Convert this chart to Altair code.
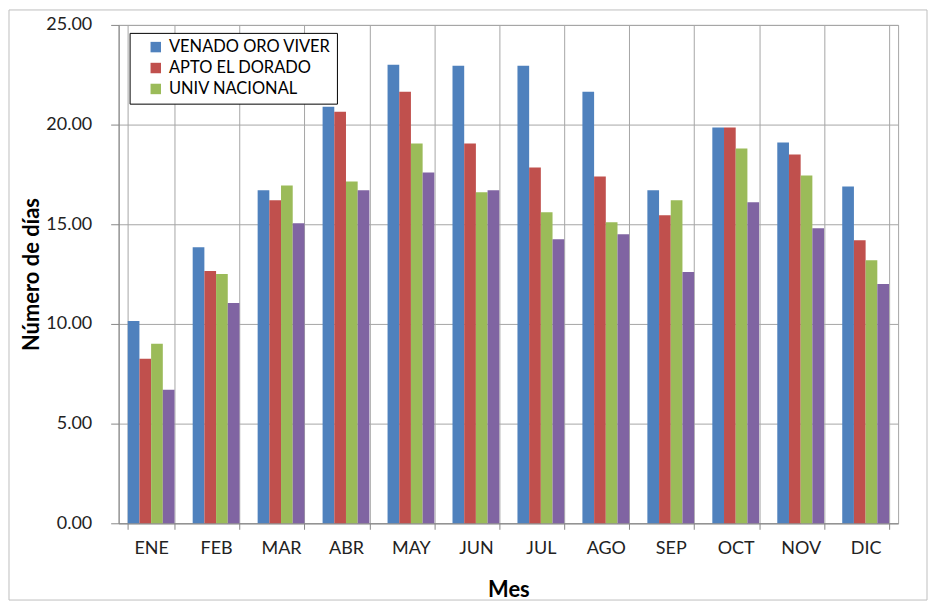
import altair as alt
import pandas as pd

months = ["ENE", "FEB", "MAR", "ABR", "MAY", "JUN", "JUL", "AGO", "SEP", "OCT", "NOV", "DIC"]
series = ["VENADO ORO VIVER", "APTO EL DORADO", "UNIV NACIONAL", "SERIE 4"]
venado = [10.15, 13.85, 16.7, 20.9, 23.0, 22.95, 22.95, 21.65, 16.7, 19.85, 19.1, 16.9]
apto = [8.25, 12.65, 16.2, 20.65, 21.65, 19.05, 17.85, 17.4, 15.45, 19.85, 18.5, 14.2]
univ = [9.0, 12.5, 16.95, 17.15, 19.05, 16.6, 15.6, 15.1, 16.2, 18.8, 17.45, 13.2]
serie4 = [6.7, 11.05, 15.05, 16.7, 17.6, 16.7, 14.25, 14.5, 12.6, 16.1, 14.8, 12.0]
colors = ["#4F81BD", "#C0504D", "#9BBB59", "#8064A2"]

rows = []
for name, vals in zip(series, [venado, apto, univ, serie4]):
    for m, v in zip(months, vals):
        rows.append({"Mes": m, "Serie": name, "Valor": v})
df = pd.DataFrame(rows)

FONT = "Lato"

bars = alt.Chart(df).mark_bar().encode(
    x=alt.X("Mes:N", sort=months,
            scale=alt.Scale(paddingInner=0.28, paddingOuter=0.14),
            axis=alt.Axis(title="Mes", labelAngle=0, labelFontSize=18, labelColor="#222",
                          labelPadding=10, titleFontSize=22, titleFontWeight="bold",
                          titleColor="#000", titlePadding=22, grid=True, bandPosition=0,
                          gridColor="#A6A6A6", domainColor="#888", tickColor="#888",
                          tickBand="extent", tickSize=6)),
    xOffset=alt.XOffset("Serie:N", sort=series, scale=alt.Scale(domain=series)),
    y=alt.Y("Valor:Q",
            scale=alt.Scale(domain=[0, 25]),
            axis=alt.Axis(title="Número de días", values=[0, 5, 10, 15, 20, 25], format=".2f",
                          labelFontSize=18, labelColor="#222", labelPadding=19,
                          titleFontSize=22, titleFontWeight="bold", titleColor="#000",
                          titlePadding=2, gridColor="#A6A6A6", domainColor="#888",
                          tickColor="#888", tickSize=8)),
    color=alt.Color("Serie:N", sort=series,
                    scale=alt.Scale(domain=series, range=colors),
                    legend=alt.Legend(title=None, values=series[:3], orient="none",
                                      legendX=11, legendY=8, strokeColor="#000",
                                      fillColor="white", padding=6, symbolType="square",
                                      symbolSize=110, symbolStrokeWidth=0,
                                      symbolOffset=12, labelOffset=5,
                                      labelFontSize=16.5, labelColor="#000",
                                      rowPadding=4, labelLimit=300)),
)

frame = alt.Chart(pd.DataFrame({"k": [0]})).mark_rect(
    fill=None, stroke="#BFBFBF", strokeWidth=1
).encode(x=alt.value(-110), x2=alt.value(811), y=alt.value(-15), y2=alt.value(577))

chart = alt.layer(frame, bars).properties(
    width=782, height=500, padding={"left": 0, "top": 0, "right": 0, "bottom": 0}
).configure(font=FONT).configure_view(stroke="#A6A6A6")

chart.save("out.html", embed_options={"renderer": "svg", "actions": False})
